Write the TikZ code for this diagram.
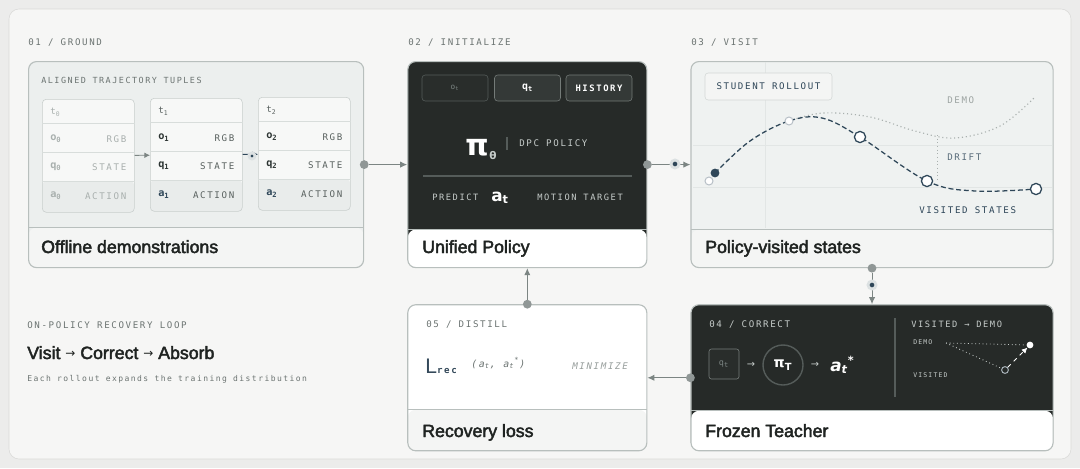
\documentclass[tikz,border=0pt]{standalone}
\usepackage{fontspec}
\setmainfont{Liberation Sans}
\newfontfamily\labfont[LetterSpace=18]{DejaVu Sans Mono}
\newfontfamily\headfont[FakeBold=2.5]{Liberation Sans}
\newfontfamily\symfont{DejaVu Sans}
\usetikzlibrary{arrows.meta,positioning,calc}
\definecolor{Canvas}{HTML}{ECECEB}
\definecolor{Sheet}{HTML}{F6F6F5}
\definecolor{SheetLine}{HTML}{DADAD8}
\definecolor{PanelLine}{HTML}{B8BFBD}
\definecolor{PaleGround}{HTML}{ECEFEE}
\definecolor{PaleVisit}{HTML}{EFF2F1}
\definecolor{BandPale}{HTML}{F4F5F4}
\definecolor{Dark}{HTML}{262A28}
\definecolor{TupleFill}{HTML}{F7F8F7}
\definecolor{TupleLine}{HTML}{C8CECC}
\definecolor{RowFill}{HTML}{E9ECEB}
\definecolor{Tag}{HTML}{6C7472}
\definecolor{Ink}{HTML}{1F2321}
\definecolor{Accent}{HTML}{2E4658}
\definecolor{Conn}{HTML}{7C8583}
\definecolor{Halo}{HTML}{DCE1E2}
\definecolor{Faded}{HTML}{A9B0AE}
\definecolor{CardInk}{HTML}{59615F}
\definecolor{Strong}{HTML}{2C3432}
\definecolor{GridLine}{HTML}{E2E6E5}
\definecolor{PillFill}{HTML}{343937}
\definecolor{PillLine}{HTML}{747B78}
\definecolor{DimLine}{HTML}{555C5A}
\definecolor{OnDark}{HTML}{C6CCCA}
\definecolor{LossInk}{HTML}{34495A}
\newcommand{\tagtext}{\labfont\fontsize{6.5}{8}\selectfont}
\newcommand{\titletext}{\headfont\fontsize{12.6}{14}\selectfont}
\newcommand{\goto}{\raisebox{1.3pt}{\symfont\fontsize{8.5}{8}\selectfont →}}

\begin{document}
\begin{tikzpicture}[
  x=0.025cm, y=-0.025cm,
  panel/.style={draw=PanelLine, line width=0.8pt, rounded corners=0.2cm, inner sep=0pt},
  band/.style 2 args={path picture={
    \fill[#1] ($(path picture bounding box.south west)+(0,-#2)$) rectangle (path picture bounding box.south east);
    \draw[PanelLine, line width=0.8pt] ($(path picture bounding box.south west)+(0,-#2)$) -- ($(path picture bounding box.south east)+(0,-#2)$);}},
  tag/.style={anchor=base west, inner sep=0pt, text=Tag, font=\tagtext},
  title/.style={anchor=base west, inner sep=0pt, text=Ink, font=\titletext},
  tuple/.style={draw=TupleLine, fill=TupleFill, rounded corners=0.1cm, anchor=north west, inner sep=0pt,
    minimum width=2.3cm, minimum height=2.825cm,
    path picture={\fill[RowFill] ($(path picture bounding box.south west)+(0,-31)$) rectangle (path picture bounding box.south east);}},
  cell/.style={inner sep=0pt, font=\labfont\fontsize{6.5}{7}\selectfont},
  cellsym/.style={inner sep=0pt, anchor=west, font=\labfont\bfseries\fontsize{7.3}{8}\selectfont},
  pill/.style={draw=PillLine, fill=PillFill, rounded corners=0.08cm, minimum width=1.65cm, minimum height=0.65cm, inner sep=0pt},
  vstate/.style={circle, draw=Accent, fill=white, line width=0.9pt, inner sep=0pt, minimum size=0.28cm},
  ghost/.style={circle, draw=Accent!35, fill=white, line width=0.7pt, inner sep=0pt, minimum size=0.2cm},
  arrow/.style={-{Latex[length=5pt,width=4.5pt]}, line width=0.7pt, draw=Conn},
  startdot/.style={circle, fill=Conn!85, inner sep=0pt, minimum size=0.22cm},
  middot/.style={circle, fill=Accent, draw=Halo, line width=2pt, inner sep=0pt, minimum size=0.2cm}
]
% canvas
\fill[Canvas] (0,0) rectangle (1080,468);
\draw[SheetLine, fill=Sheet, rounded corners=0.25cm] (9,9) rectangle (1071,459);

% panels
\node[panel, fill=PaleGround, band={BandPale}{40}, minimum width=8.375cm, minimum height=5.15cm, anchor=north west] (ground) at (28,61) {};
\node[panel, fill=Dark, band={white}{38}, minimum width=5.975cm, minimum height=5.15cm, right=1.075cm of ground] (init) {};
\node[panel, fill=PaleVisit, band={BandPale}{38}, minimum width=9.05cm, minimum height=5.15cm, right=1.075cm of init] (visit) {};
\node[panel, fill=Dark, band={white}{40}, minimum width=9.05cm, minimum height=3.65cm, below=0.9cm of visit] (correct) {};
\node[panel, fill=white, band={BandPale}{41}, minimum width=5.975cm, minimum height=3.65cm, below=0.9cm of init] (distill) {};

\node[tag] at (28,45) {01 / GROUND};
\node[tag] at (408,45) {02 / INITIALIZE};
\node[tag] at (691,45) {03 / VISIT};

\node[title] at (41,253) {Offline demonstrations};
\node[title] at (422,253) {Unified Policy};
\node[title] at (705,253) {Policy-visited states};
\node[title] at (422,437) {Recovery loss};
\node[title] at (705,437) {Frozen Teacher};

% 01 ground: tuples
\node[tag, font=\labfont\fontsize{6}{7}\selectfont] at (41,83) {ALIGNED TRAJECTORY TUPLES};
\foreach \i/\x/\y/\ink/\sym/\act in {0/42/99/Faded/Faded/Faded, 1/150/98/CardInk/Strong/Accent, 2/258/97/CardInk/Strong/Accent}{
  \node[tuple] (tup\i) at (\x,\y) {};
  \foreach \r in {24,53,82}
    \draw[TupleLine!70] ($(tup\i.north west)+(0,\r)$) -- ($(tup\i.north east)+(0,\r)$);
  \node[cell, anchor=west, text=\ink] at ($(tup\i.north west)+(8,13)$) {t\textsubscript{\i}};
  \node[cellsym, text=\sym] at ($(tup\i.north west)+(8,40)$) {o\textsubscript{\i}};
  \node[cellsym, text=\sym] at ($(tup\i.north west)+(8,68)$) {q\textsubscript{\i}};
  \node[cellsym, text=\act] at ($(tup\i.north west)+(8,97)$) {a\textsubscript{\i}};
  \node[cell, anchor=east, text=\ink] at ($(tup\i.north east)+(-8,40)$) {RGB};
  \node[cell, anchor=east, text=\ink] at ($(tup\i.north east)+(-8,68)$) {STATE};
  \node[cell, anchor=east, text=\ink] at ($(tup\i.north east)+(-8,97)$) {ACTION};
}
\draw[arrow, line width=0.6pt, -{Latex[length=4pt,width=4pt]}] (tup0) -- (tup1);
\draw[arrow, line width=0.6pt, -{Latex[length=4pt,width=4pt]}, draw=Accent] (tup1) -- (tup2);
\node[middot, minimum size=0.15cm] (tmid) at (252,156) {};

% 02 initialize: policy
\node[pill, draw=DimLine, fill=Dark!80!PillFill, text=Conn, font=\labfont\fontsize{5.5}{6}\selectfont] (obs) at (455,88) {o\textsubscript{t}};
\node[pill, text=white, font=\labfont\bfseries\fontsize{7}{8}\selectfont] (prop) at (527.5,88) {q\textsubscript{t}};
\node[pill, text=white, font=\labfont\bfseries\fontsize{6.3}{7}\selectfont] (hist) at (599,88) {HISTORY};
\node[anchor=base west, inner sep=0pt, text=white, font=\symfont\bfseries\fontsize{21}{21}\selectfont] (pol) at (465,155) {π};
\node[anchor=base west, inner sep=0pt, text=OnDark, font=\symfont\bfseries\fontsize{7.5}{8}\selectfont] (polsub) at (489,159) {θ};
\draw[DimLine, line width=0.8pt] (507,137) -- (507,150);
\node[tag, text=OnDark] at (519,146) {DPC POLICY};
\draw[DimLine, line width=0.8pt] (423,176) -- (632,176);
\node[tag, text=OnDark, font=\labfont\fontsize{6.2}{7}\selectfont] at (432,200) {PREDICT};
\node[anchor=base west, inner sep=0pt, text=white, font=\symfont\bfseries\fontsize{12}{12}\selectfont] (act) at (491,201) {a\textsubscript{t}};
\node[tag, text=OnDark, font=\labfont\fontsize{6.2}{7}\selectfont] at (537,200) {MOTION TARGET};

% 03 visit: rollout
\draw[GridLine] (765,62) -- (765,228);
\draw[GridLine] (693,145) -- (1052,145);
\draw[GridLine] (693,187) -- (1052,187);
\node[draw=TupleLine!80, fill=BandPale, rounded corners=0.08cm, minimum width=3.175cm, minimum height=0.675cm, inner sep=0pt, text=Accent, font=\tagtext] (rollout) at (768.5,86.5) {STUDENT ROLLOUT};
\node[tag, text=Faded!80!Tag] at (947,103) {DEMO};
\draw[Faded, dotted, line width=0.8pt] plot[smooth, tension=0.6] coordinates {(789,121) (823,113) (870,117) (915,131) (955,138) (1000,126) (1035,97)};
\draw[Faded, dotted, line width=0.6pt] (937,135) -- (937,180);
\node[tag, text=Accent!80] at (947,160) {DRIFT};
\draw[Accent, dash pattern=on 3.5pt off 2pt, line width=0.9pt] plot[smooth, tension=0.6] coordinates {(715,173) (750,141) (789,121) (822,118) (860,137) (927,181) (975,191) (1036,189)};
\node[ghost] (g0) at (709,181) {};
\node[ghost] (g1) at (789,121) {};
\node[circle, fill=Accent, inner sep=0pt, minimum size=0.22cm] (s0) at (715,173) {};
\node[vstate] (v1) at (860,137) {};
\node[vstate] (v2) at (927,181) {};
\node[vstate] (v3) at (1036,189) {};
\node[tag, text=Accent] at (919,213) {VISITED STATES};

% 04 correct: teacher
\node[tag, text=OnDark] at (709,327) {04 / CORRECT};
\node[draw=DimLine!80, fill=Dark!80!PillFill, rounded corners=0.06cm, minimum size=0.75cm, inner sep=0pt, text=Conn, font=\labfont\fontsize{6}{7}\selectfont] (qt) at (724,364) {q\textsubscript{t}};
\node[circle, draw=DimLine, line width=1pt, minimum size=1cm, inner sep=0pt, text=white, font=\symfont\bfseries\fontsize{10}{10}\selectfont] (teach) at (783,365) {π\textsubscript{T}};
\node[inner sep=0pt, text=OnDark, font=\symfont\fontsize{7}{7}\selectfont] (ar1) at (751,365) {→};
\node[inner sep=0pt, text=OnDark, font=\symfont\fontsize{7}{7}\selectfont] (ar2) at (815,365) {→};
\node[anchor=base west, inner sep=0pt, text=white, font=\symfont\bfseries\itshape\fontsize{12}{12}\selectfont] (astar) at (830,371) {a\textsubscript{t}\textsuperscript{*}};
\draw[DimLine, line width=1.2pt] (895,318) -- (895,397);
\node[tag, text=OnDark, font=\labfont\fontsize{6.2}{7}\selectfont] at (911,327) {VISITED → DEMO};
\node[tag, text=OnDark, font=\labfont\fontsize{4.6}{5}\selectfont] (dlab) at (913,344) {DEMO};
\node[tag, text=OnDark, font=\labfont\fontsize{4.6}{5}\selectfont] (vlab) at (913,377) {VISITED};
\coordinate (dfrom) at (946,343);
\node[circle, draw=Accent!40!white, fill=Dark, line width=0.7pt, inner sep=0pt, minimum size=0.17cm] (vis) at (1005,370) {};
\node[circle, fill=white, inner sep=0pt, minimum size=0.17cm] (dem) at (1030,345) {};
\draw[OnDark, dotted, line width=0.6pt] (dfrom) -- (dem);
\draw[OnDark, dotted, line width=0.6pt] (dfrom) -- (vis);
\draw[white, dashed, line width=0.6pt, -{Latex[length=4pt,width=4pt]}] (vis) -- (dem);

% 05 distill: loss
\node[tag] at (426,327) {05 / DISTILL};
\node[anchor=base west, inner sep=0pt, text=LossInk, font=\fontsize{15}{15}\selectfont] (loss) at (425,373) {L{\labfont\bfseries\fontsize{6.5}{7}\selectfont rec}};
\node[tag, font=\labfont\itshape\fontsize{7}{8}\selectfont] (args) at (471,367) {(a\textsubscript{t}, a\textsubscript{t}\textsuperscript{*})};
\node[tag, text=Faded!70!Tag, font=\labfont\itshape\fontsize{6.5}{7}\selectfont] (mini) at (572,369) {MINIMIZE};

% loop note
\node[tag] at (27,328) {ON-POLICY RECOVERY LOOP};
\node[title] at (27,359) {Visit \goto{} Correct \goto{} Absorb};
\node[tag, font=\labfont\fontsize{5.7}{7}\selectfont] at (27,381) {Each rollout expands the training distribution};

% connectors
\node[startdot] (c1) at (ground.east) {};
\draw[arrow] (c1) -- (init);
\node[startdot] (c2) at (init.east) {};
\draw[arrow] (c2) -- (visit);
\node[middot] (m2) at (675,164) {};
\node[startdot] (c3) at (visit.south) {};
\draw[arrow] (c3) -- (correct);
\node[middot] (m3) at (872,285) {};
\node[startdot] (c4) at (correct.west) {};
\draw[arrow] (c4) -- (distill);
\node[startdot] (c5) at (distill.north) {};
\draw[arrow] (c5) -- (init);
\end{tikzpicture}
\end{document}
